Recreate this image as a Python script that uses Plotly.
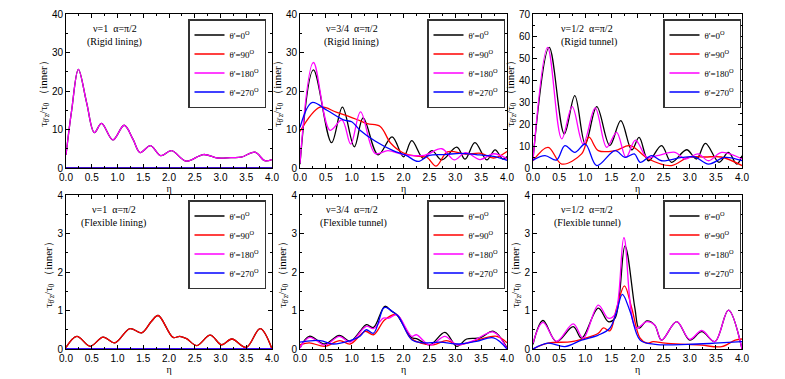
import plotly.graph_objects as go

# ---------------- data ----------------
THETA_LABELS = ["θ'=0<sup>O</sup>", "θ'=90<sup>O</sup>", "θ'=180<sup>O</sup>", "θ'=270<sup>O</sup>"]
ZERO_ETA = [0.0, 4.0]
ZERO_VAL = [0.0, 0.0]

# Panel 1: v=1, rigid lining (0 deg and 180 deg coincide, 90/270 deg are zero)
P1_ETA = [0.0, 0.11, 0.24, 0.4, 0.55, 0.69, 0.91, 1.13, 1.3, 1.44, 1.64, 1.84, 2.05, 2.33, 2.67, 2.95, 3.2, 3.4, 3.67, 3.86, 4.0]
P1_VAL = [3.4, 15.0, 25.6, 17.0, 9.2, 11.6, 7.3, 11.1, 7.5, 4.0, 5.8, 3.2, 4.5, 1.8, 3.5, 2.6, 2.7, 2.8, 4.1, 1.9, 2.2]

# Panel 2: v=3/4, rigid lining
P2_ETA_K = [0.0, 0.26, 0.61, 0.82, 1.05, 1.22, 1.51, 1.78, 2.0, 2.16, 2.38, 2.55, 2.74, 3.03, 3.19, 3.38, 3.61, 3.77, 3.92, 4.0]
P2_K = [1.0, 25.5, 6.6, 15.8, 5.5, 13.0, 3.4, 8.1, 2.9, 7.1, 2.5, 4.5, 2.1, 5.4, 2.3, 6.6, 2.1, 4.7, 2.3, 3.0]
P2_ETA_R = [0.0, 0.39, 0.7, 1.1, 1.3, 1.55, 1.75, 2.0, 2.3, 2.45, 2.63, 2.85, 3.2, 3.5, 3.74, 4.0]
P2_R = [9.5, 15.8, 14.5, 12.6, 11.5, 10.8, 6.5, 3.9, 3.0, 2.8, 0.5, 4.2, 3.6, 3.8, 2.6, 4.3]
P2_ETA_M = [0.0, 0.26, 0.58, 0.81, 0.98, 1.17, 1.45, 1.7, 2.0, 2.4, 2.74, 2.98, 3.2, 3.48, 3.74, 4.0]
P2_M = [1.2, 27.4, 9.8, 12.5, 6.2, 14.6, 3.8, 4.5, 3.5, 3.3, 5.0, 2.1, 4.0, 2.2, 3.7, 2.4]
P2_ETA_B = [0.0, 0.23, 0.52, 0.84, 1.0, 1.16, 1.45, 1.8, 2.05, 2.28, 2.5, 2.8, 3.1, 3.4, 3.74, 4.0]
P2_B = [10.5, 17.0, 15.0, 12.5, 12.0, 9.8, 7.0, 4.5, 3.3, 1.7, 3.3, 3.5, 3.8, 3.5, 3.0, 2.0]

# Panel 3: v=1/2, rigid tunnel
P3_ETA_K = [0.0, 0.31, 0.6, 0.8, 1.0, 1.22, 1.47, 1.68, 1.89, 2.03, 2.21, 2.46, 2.65, 2.94, 3.13, 3.3, 3.56, 3.74, 3.9, 4.0]
P3_K = [4.1, 54.8, 15.5, 32.9, 10.9, 27.9, 10.2, 21.5, 8.2, 13.9, 3.3, 10.2, 2.6, 8.3, 4.1, 11.2, 2.6, 7.1, 1.8, 5.6]
P3_ETA_R = [0.0, 0.29, 0.55, 0.93, 1.07, 1.25, 1.57, 1.86, 2.21, 2.65, 2.97, 3.3, 3.6, 4.0]
P3_R = [3.3, 9.4, 1.8, 6.4, 14.0, 7.9, 7.9, 10.2, 4.1, 1.1, 4.8, 5.0, 5.0, 1.1]
P3_ETA_M = [0.0, 0.28, 0.55, 0.75, 0.96, 1.19, 1.41, 1.6, 1.78, 1.96, 2.18, 2.37, 2.72, 2.91, 3.16, 3.36, 3.61, 4.0]
P3_M = [3.3, 54.8, 13.2, 27.9, 10.9, 27.3, 9.4, 16.2, 4.8, 12.7, 4.8, 5.6, 7.1, 4.1, 6.4, 3.3, 7.1, 4.1]
P3_ETA_B = [0.0, 0.23, 0.45, 0.61, 0.8, 1.0, 1.22, 1.57, 1.76, 1.94, 2.05, 2.27, 2.46, 2.85, 3.1, 3.36, 3.67, 4.0]
P3_B = [3.6, 5.6, 3.6, 10.2, 7.1, 10.9, 1.1, 7.9, 4.8, 6.4, 2.6, 5.6, 3.3, 4.8, 5.0, 1.8, 4.8, 3.3]

# Panel 4: v=1, flexible lining (0 deg and 90 deg coincide, 180/270 deg are zero)
P4_ETA = [0.0, 0.21, 0.47, 0.72, 0.95, 1.24, 1.47, 1.66, 1.79, 2.08, 2.21, 2.34, 2.54, 2.80, 3.02, 3.22, 3.5, 3.77, 4.0]
P4_VAL = [0.04, 0.33, 0.07, 0.31, 0.16, 0.53, 0.42, 0.72, 0.87, 0.30, 0.33, 0.27, 0.09, 0.36, 0.11, 0.26, 0.04, 0.53, 0.0]

# Panel 5: v=3/4, flexible tunnel
P5_ETA_K = [0.0, 0.18, 0.48, 0.76, 0.97, 1.16, 1.28, 1.42, 1.64, 1.77, 1.87, 2.16, 2.25, 2.51, 2.80, 3.03, 3.22, 3.48, 3.74, 4.0]
P5_K = [0.03, 0.33, 0.13, 0.35, 0.2, 0.46, 0.63, 0.56, 1.11, 0.98, 0.89, 0.29, 0.27, 0.11, 0.43, 0.07, 0.26, 0.29, 0.46, 0.03]
P5_ETA_R = [0.0, 0.18, 0.48, 0.77, 0.97, 1.26, 1.42, 1.64, 1.87, 2.13, 2.32, 2.58, 2.83, 3.06, 3.35, 3.80, 4.0]
P5_R = [0.11, 0.16, 0.07, 0.22, 0.13, 0.46, 0.37, 0.76, 0.89, 0.29, 0.16, 0.11, 0.22, 0.11, 0.2, 0.33, 0.16]
P5_ETA_M = [0.0, 0.19, 0.48, 0.76, 0.97, 1.28, 1.42, 1.61, 1.72, 1.87, 2.16, 2.25, 2.51, 2.80, 3.03, 3.35, 3.74, 4.0]
P5_M = [0.03, 0.3, 0.1, 0.33, 0.18, 0.59, 0.53, 0.8, 0.8, 0.89, 0.33, 0.37, 0.1, 0.33, 0.11, 0.22, 0.44, 0.0]
P5_ETA_B = [0.0, 0.39, 0.64, 0.97, 1.16, 1.28, 1.42, 1.61, 1.66, 1.8, 1.9, 2.16, 2.38, 2.7, 3.09, 3.41, 3.74, 4.0]
P5_B = [0.18, 0.22, 0.13, 0.22, 0.33, 0.5, 0.41, 1.06, 1.08, 0.96, 0.85, 0.24, 0.16, 0.18, 0.13, 0.2, 0.29, 0.0]

# Panel 6: v=1/2, flexible tunnel
P6_ETA_K = [0.0, 0.19, 0.45, 0.77, 0.93, 1.25, 1.44, 1.57, 1.76, 1.95, 2.03, 2.18, 2.33, 2.46, 2.75, 3.0, 3.23, 3.48, 3.74, 4.0]
P6_K = [0.12, 0.74, 0.19, 0.58, 0.28, 1.06, 0.71, 0.8, 2.68, 1.06, 0.54, 0.73, 0.62, 0.23, 0.71, 0.23, 0.45, 0.19, 1.01, 0.0]
P6_ETA_R = [0.0, 0.29, 0.74, 1.0, 1.25, 1.35, 1.47, 1.6, 1.75, 1.89, 2.05, 2.18, 2.3, 2.53, 2.97, 3.23, 3.61, 3.87, 4.0]
P6_R = [0.0, 0.15, 0.19, 0.28, 0.41, 0.55, 0.47, 1.06, 1.64, 1.06, 0.28, 0.15, 0.19, 0.15, 0.12, 0.1, 0.06, 0.23, 0.26]
P6_ETA_M = [0.0, 0.19, 0.45, 0.77, 0.96, 1.25, 1.44, 1.57, 1.74, 1.97, 2.18, 2.33, 2.46, 2.75, 3.0, 3.23, 3.48, 3.74, 4.0]
P6_M = [0.15, 0.69, 0.2, 0.65, 0.28, 1.14, 0.8, 0.9, 2.89, 0.54, 0.71, 0.62, 0.23, 0.71, 0.25, 0.48, 0.19, 1.01, 0.0]
P6_ETA_B = [0.0, 0.29, 0.61, 0.93, 1.25, 1.47, 1.6, 1.71, 1.86, 2.05, 2.34, 2.97, 3.48, 4.0]
P6_B = [0.0, 0.15, 0.06, 0.23, 0.36, 0.54, 0.97, 1.42, 0.97, 0.23, 0.12, 0.12, 0.15, 0.19]

PANEL_TITLES = [
    ("ν=1  α=π/2", "(Rigid lining)"),
    ("ν=3/4  α=π/2", "(Rigid lining)"),
    ("ν=1/2  α=π/2", "(Rigid tunnel)"),
    ("ν=1  α=π/2", "(Flexible lining)"),
    ("ν=3/4  α=π/2", "(Flexible tunnel)"),
    ("ν=1/2  α=π/2", "(Flexible tunnel)"),
]
Y_MAX = [40, 40, 70, 4, 4, 4]
Y_DTICK = [10, 10, 10, 1, 1, 1]

PANELS = [
    [(P1_ETA, P1_VAL), (ZERO_ETA, ZERO_VAL), (P1_ETA, P1_VAL), (ZERO_ETA, ZERO_VAL)],
    [(P2_ETA_K, P2_K), (P2_ETA_R, P2_R), (P2_ETA_M, P2_M), (P2_ETA_B, P2_B)],
    [(P3_ETA_K, P3_K), (P3_ETA_R, P3_R), (P3_ETA_M, P3_M), (P3_ETA_B, P3_B)],
    [(P4_ETA, P4_VAL), (P4_ETA, P4_VAL), (ZERO_ETA, ZERO_VAL), (ZERO_ETA, ZERO_VAL)],
    [(P5_ETA_K, P5_K), (P5_ETA_R, P5_R), (P5_ETA_M, P5_M), (P5_ETA_B, P5_B)],
    [(P6_ETA_K, P6_K), (P6_ETA_R, P6_R), (P6_ETA_M, P6_M), (P6_ETA_B, P6_B)],
]

# ---------------- styling ----------------
COLORS = ["#000000", "#ff0000", "#ff00ff", "#0000ff"]
W, H = 785, 379
X_DOMAINS = [(66, 272), (300, 507), (533, 742)]
Y_DOMAINS = [(14, 168), (195, 349)]
LEGEND_RIGHT = [266, 505, 741]
LEGEND_TOP = [19, 200]
TEXT_X = [(0.95, 0.95), (1.0, 1.0), (1.03, 1.07), (0.93, 0.92), (1.0, 1.04), (1.03, 1.04)]
SERIF = "Liberation Serif, Times New Roman, serif"
SANS = "Liberation Sans, Arial, sans-serif"

fig = go.Figure()
layout = dict(
    width=W, height=H, margin=dict(l=0, r=0, t=0, b=0, pad=0, autoexpand=False),
    paper_bgcolor="white", plot_bgcolor="white", showlegend=True,
)
annotations = []

for i, series in enumerate(PANELS):
    row, col = divmod(i, 3)
    ax = "" if i == 0 else str(i + 1)
    leg = "legend" if i == 0 else f"legend{i + 1}"
    for j, (xs, ys) in enumerate(series):
        fig.add_trace(go.Scatter(
            x=xs, y=ys, mode="lines", name=THETA_LABELS[j],
            line=dict(color=COLORS[j], width=1.3, shape="spline", smoothing=1.0),
            xaxis="x" + ax, yaxis="y" + ax, legend=leg, cliponaxis=True,
        ))
    x0, x1 = X_DOMAINS[col]
    y0, y1 = Y_DOMAINS[row]
    common = dict(
        showline=True, linecolor="black", linewidth=1, mirror="ticks",
        ticks="inside", ticklen=4, tickcolor="black", tickwidth=1,
        showgrid=False, zeroline=False, automargin=False,
        tickfont=dict(family=SANS, size=10, color="black"),
    )
    layout["xaxis" + ax] = dict(
        common, domain=[x0 / W, x1 / W], range=[0, 4], dtick=0.5, tick0=0,
        tickformat=".1f", anchor="y" + ax,
        minor=dict(ticks="inside", ticklen=2, dtick=0.25, tickcolor="black"),
        title=dict(text="η", font=dict(family=SERIF, size=10, color="black"), standoff=1),
    )
    layout["yaxis" + ax] = dict(
        common, domain=[1 - y1 / H, 1 - y0 / H], range=[0, Y_MAX[i]],
        dtick=Y_DTICK[i], tick0=0, anchor="x" + ax,
        minor=dict(ticks="inside", ticklen=2, dtick=Y_DTICK[i] / 2, tickcolor="black"),
        title=dict(text="τ<sub>θ'z</sub>/τ<sub>0</sub>\u00a0（inner）" + "\u00a0" * 14,
                   font=dict(family=SERIF, size=11, color="black"), standoff=2),
    )
    layout[leg] = dict(
        x=LEGEND_RIGHT[col] / W, y=1 - LEGEND_TOP[row] / H,
        xanchor="right", yanchor="top", xref="paper", yref="paper",
        bgcolor="white", bordercolor="#333333", borderwidth=1.5,
        font=dict(family=SERIF, size=9, color="black"),
        itemwidth=30, tracegroupgap=0,
    )
    t1, t2 = PANEL_TITLES[i]
    tx1, tx2 = TEXT_X[i]
    annotations.append(dict(
        text=t1, x=tx1, y=0.905, xref="x" + ax, yref=f"y{ax} domain",
        showarrow=False, font=dict(family=SERIF, size=10, color="black"),
        xanchor="center", yanchor="middle",
    ))
    annotations.append(dict(
        text=t2, x=tx2, y=0.815, xref="x" + ax, yref=f"y{ax} domain",
        showarrow=False, font=dict(family=SERIF, size=10, color="black"),
        xanchor="center", yanchor="middle",
    ))

layout["annotations"] = annotations
fig.update_layout(**layout)
fig.write_html(
    "out.html",
    config={"displayModeBar": False},
    post_script="document.body.style.margin='0px';document.body.style.padding='0px';",
)
